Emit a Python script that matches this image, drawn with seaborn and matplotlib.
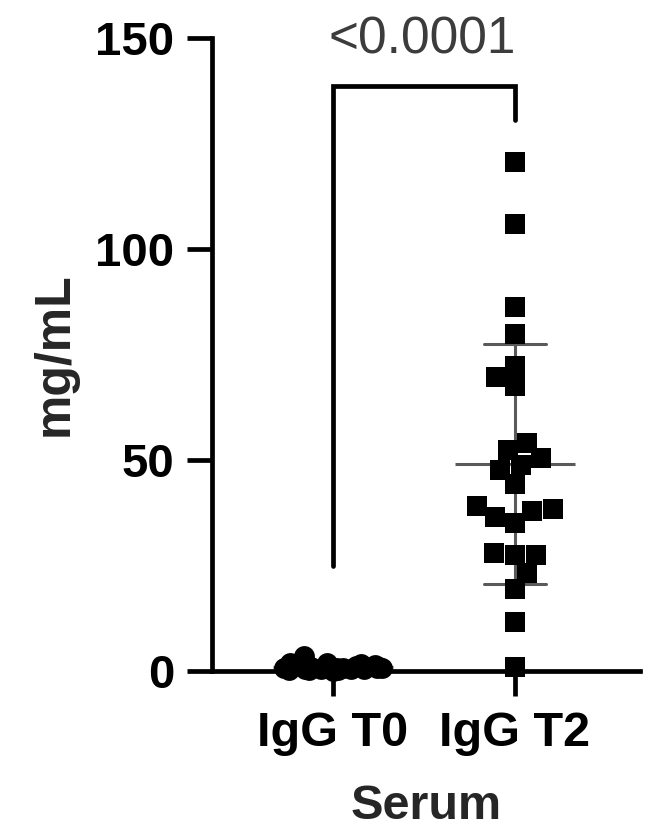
"""
Serum IgG at T0 vs T2, scatter with mean +/- SD.
"""

import numpy as np
import pandas as pd
import matplotlib
matplotlib.use("Agg")
import matplotlib.pyplot as plt
import seaborn as sns

sns.set_theme(style="ticks")
plt.rcParams["font.family"] = ["Liberation Sans", "DejaVu Sans"]

groups = ["IgG T0", "IgG T2"]
igg_t0 = [1.9, 1.6, 2.0, 1.2, 0.8, 0.6, 0.5, 0.3, 0.2, 0.0, 0.4, 0.5, 0.4,
          0.6, 0.9, 1.1, 3.6, 1.3, 0.8, 0.6, 0.7, 1.0, 0.5, 0.3, 1.4]
igg_t2 = [120.6, 105.9, 86.3, 79.9, 72.3, 67.5, 69.7, 54.0, 52.4, 50.5,
          48.8, 47.6, 44.3, 39.1, 38.4, 37.9, 36.5, 35.1, 28.0, 27.5,
          27.5, 23.2, 19.4, 11.6, 1.0]
p_label = "<0.0001"
y_ticks = [0, 50, 100, 150]

df = pd.DataFrame({
    "Serum": [groups[0]] * len(igg_t0) + [groups[1]] * len(igg_t2),
    "mg/mL": igg_t0 + igg_t2,
})

fig, ax = plt.subplots(figsize=(6.5, 8.35), dpi=100)
fig.subplots_adjust(left=0.326, right=0.985, bottom=0.1964, top=0.9545)

# mean +/- SD (behind the points)
sns.pointplot(
    data=df, x="Serum", y="mg/mL", order=groups, errorbar="sd",
    capsize=0.34, marker="_", markersize=86, markeredgewidth=2.2,
    linestyle="none", color="#5a5a5a", err_kws={"linewidth": 2.2}, ax=ax
)

np.random.seed(7)
sns.stripplot(
    data=df[df["Serum"] == groups[0]], x="Serum", y="mg/mL", order=groups,
    jitter=0.28, marker="o", size=15, color="black", linewidth=0,
    zorder=3, clip_on=False, ax=ax
)
sns.swarmplot(
    data=df[df["Serum"] == groups[1]], x="Serum", y="mg/mL", order=groups,
    marker="s", size=14.4, color="black", linewidth=0,
    zorder=3, clip_on=False, ax=ax
)

# significance bracket
ax.plot([0, 0, 1, 1], [25, 138.6, 138.6, 130.6], color="black", lw=3.4,
        clip_on=False, solid_joinstyle="miter")
ax.text(0.49, 146.4, p_label, ha="center", va="baseline", fontsize=37,
        color="#3c3c3c")

ax.set_xlim(-0.665, 1.69)
ax.set_ylim(0, 150)
ax.set_yticks(y_ticks)
ax.set_xlabel("Serum", fontsize=35, fontweight="bold", labelpad=20)
ax.set_ylabel("mg/mL", fontsize=36, fontweight="bold")
ax.yaxis.set_label_coords(-0.313, 0.5)

sns.despine(ax=ax)
for s in ["left", "bottom"]:
    ax.spines[s].set_linewidth(3.4)
    ax.spines[s].set_color("black")
ax.tick_params(axis="both", width=3.4, length=18, colors="black")
ax.tick_params(axis="x", pad=11, labelsize=35)
ax.tick_params(axis="y", pad=9, labelsize=34)
for lab in ax.get_xticklabels() + ax.get_yticklabels():
    lab.set_fontweight("bold")

fig.savefig("out.png", dpi=100)
